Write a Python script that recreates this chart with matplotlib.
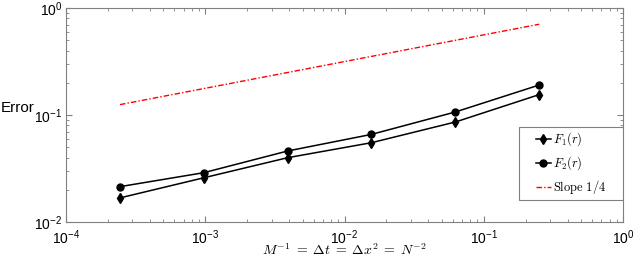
import numpy as np
import matplotlib.pyplot as plt
from matplotlib.font_manager import FontProperties
from matplotlib.patches import Rectangle
from matplotlib.ticker import LogLocator, NullFormatter

plt.rcParams['font.family'] = ['Liberation Sans', 'DejaVu Sans']

# data
h = [1/4096, 1/1024, 1/256, 1/64, 1/16, 1/4]
err_f1 = [0.0168, 0.0259, 0.0399, 0.0551, 0.086, 0.155]
err_f2 = [0.0214, 0.0289, 0.0461, 0.0659, 0.1067, 0.1906]
slope_y = [0.125, 0.705]
slope_x = [h[0], h[-1]]

fig = plt.figure(figsize=(6.34, 2.58), dpi=100)
ax = fig.add_axes([66/634, 1-222/258, (623-66)/634, (222-8)/258])

ax.loglog(h, err_f1, color='k', marker='d', ms=5.5, lw=1.1, label=r'$F_1(r)$')
ax.loglog(h, err_f2, color='k', marker='o', ms=5, lw=1.1, label=r'$F_2(r)$')
ax.loglog(slope_x, slope_y, color='red', ls=(0, (4, 1.5, 1, 1.5)), lw=1.0,
          label=r'$\mathrm{Slope}\ 1/4$')

ax.set_xlim(1e-4, 1)
ax.set_ylim(1e-2, 1)

grey = '#808080'
for sp in ax.spines.values():
    sp.set_color(grey)
    sp.set_linewidth(0.8)
ax.tick_params(which='both', direction='in', top=True, right=True, colors=grey,
               labelcolor='k', labelsize=10)
ax.tick_params(which='major', length=4)
ax.tick_params(which='minor', length=2)
ax.tick_params(axis='x', which='major', pad=4.5)
ax.tick_params(axis='y', which='major', pad=2.5)
ax.xaxis.set_minor_locator(LogLocator(base=10, subs=np.arange(2, 10), numticks=20))
ax.yaxis.set_minor_locator(LogLocator(base=10, subs=np.arange(2, 10), numticks=20))
ax.xaxis.set_minor_formatter(NullFormatter())
ax.yaxis.set_minor_formatter(NullFormatter())

cm_prop = FontProperties(family='DejaVu Serif', size=10, math_fontfamily='cm')
ax.set_xlabel(r'$M^{-1}\;=\;\Delta t\;=\;\Delta x^2\;=\;N^{-2}$', fontproperties=cm_prop,
              va='bottom')
ax.xaxis.set_label_coords(0.5, (222-258)/214)
ax.set_ylabel('Error', rotation=0, ha='left', va='center', fontsize=11)
ax.yaxis.set_label_coords(-65/557, (222-108)/214)

# legend box (frame drawn separately so the padding can match)
bx0, bx1 = (519-66)/557, 1.0
by0, by1 = (222-200)/214, (222-127)/214
ax.add_patch(Rectangle((bx0, by0), bx1-bx0, by1-by0, transform=ax.transAxes,
                       facecolor='white', edgecolor=grey, lw=0.8, zorder=4))
leg_prop = FontProperties(family='DejaVu Serif', size=9, math_fontfamily='cm')
leg = ax.legend(loc='center', bbox_to_anchor=((bx0+bx1)/2, (by0+by1)/2), borderaxespad=0,
                prop=leg_prop, frameon=False, handlelength=1.2, numpoints=1,
                handletextpad=0.2, labelspacing=0.5, borderpad=0)
leg.set_zorder(5)

fig.savefig('out.png', dpi=100)
